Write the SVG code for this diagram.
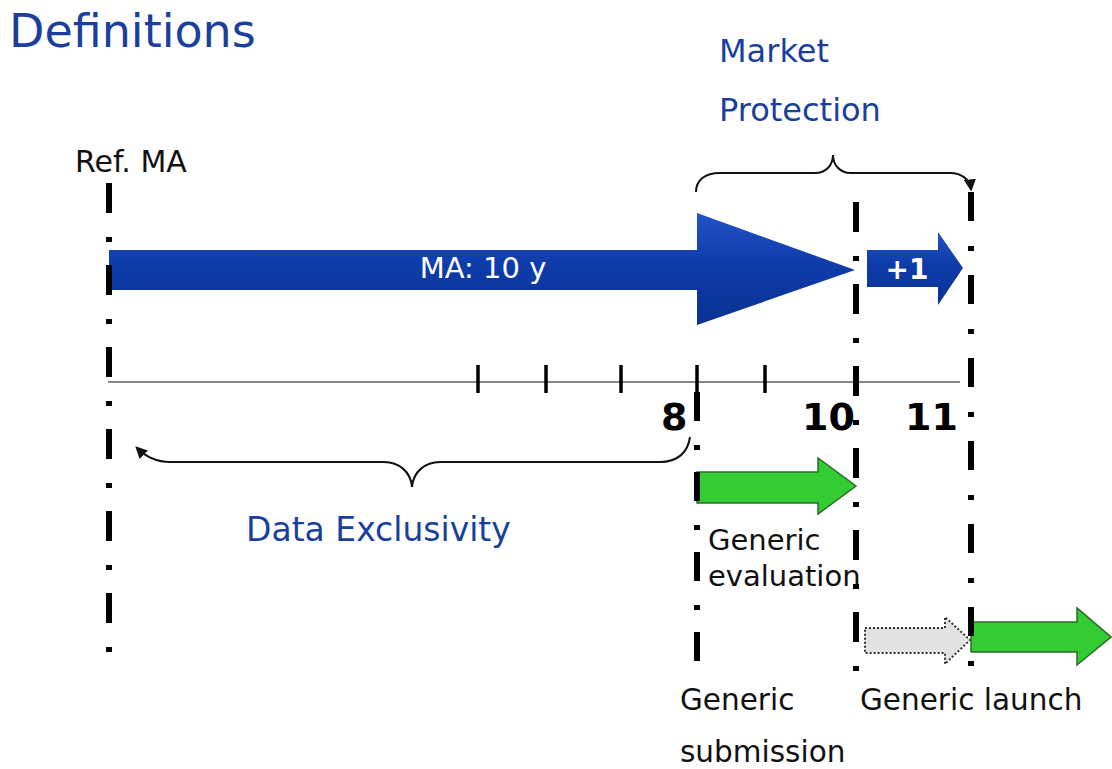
<svg xmlns="http://www.w3.org/2000/svg" width="1112" height="769" viewBox="0 0 1112 769">
  <style>
    .lbl { font-family: "DejaVu Sans", Verdana, sans-serif; fill: #111; }
    .blue { font-family: "DejaVu Sans", Verdana, sans-serif; fill: #1a3f9c; }
    .num { font-family: "DejaVu Sans", Verdana, sans-serif; font-weight: bold; fill: #000; font-size: 38px; }
    .vline { stroke: #000; stroke-width: 6; fill: none; }
    .tick { stroke: #000; stroke-width: 3.5; }
    .brace { stroke: #111; stroke-width: 2; fill: none; }
    .green { fill: #33cc33; stroke: #2b6b2b; stroke-width: 1.5; }
    .ghost { fill: #e2e2e2; stroke: #333; stroke-width: 2; stroke-dasharray: 2 2; }
  </style>
  <defs>
    <linearGradient id="blueFill" x1="0" y1="0" x2="0" y2="1">
      <stop offset="0" stop-color="#2352c6"/>
      <stop offset="0.45" stop-color="#0e3caa"/>
      <stop offset="1" stop-color="#0a3192"/>
    </linearGradient>
    <marker id="head" viewBox="0 0 10 10" refX="8" refY="5" markerWidth="6" markerHeight="6" orient="auto">
      <path d="M0,0 L10,5 L0,10 z" fill="#111"/>
    </marker>
  </defs>
  <rect width="1112" height="769" fill="#fff"/>

  <text class="blue" x="9" y="47" font-size="46">Definitions</text>

  <!-- time axis -->
  <g id="axis">
    <line x1="108" y1="382" x2="960" y2="382" stroke="#888" stroke-width="2"/>
    <line class="tick" x1="478" y1="365" x2="478" y2="393"/>
    <line class="tick" x1="546" y1="365" x2="546" y2="393"/>
    <line class="tick" x1="621" y1="365" x2="621" y2="393"/>
    <line class="tick" x1="697" y1="365" x2="697" y2="393"/>
    <line class="tick" x1="765" y1="365" x2="765" y2="393"/>
    <text class="num" x="661" y="430">8</text>
    <text class="num" x="802" y="430">10</text>
    <text class="num" x="905" y="430">11</text>
  </g>

  <!-- main MA arrow -->
  <g id="ma-arrow">
    <polygon points="109,250 697,250 697,213 855,270 697,325 697,290 109,290" fill="url(#blueFill)"/>
    <text x="483" y="278" font-family="DejaVu Sans, Verdana, sans-serif" font-size="29" fill="#fff" text-anchor="middle">MA: 10 y</text>
  </g>

  <!-- extra year arrow -->
  <g id="plus-one">
    <polygon points="867,250 938,250 938,232 963,268 938,305 938,287 867,287" fill="url(#blueFill)"/>
    <text x="907" y="279" font-family="DejaVu Sans, Verdana, sans-serif" font-size="28" font-weight="bold" fill="#fff" text-anchor="middle">+1</text>
  </g>

  <!-- generic evaluation arrow -->
  <g id="evaluation">
    <polygon class="green" points="697,472 818,472 818,458 856,486 818,514 818,503 697,503"/>
    <text class="lbl" x="708" y="550" font-size="29">Generic</text>
    <text class="lbl" x="708" y="586" font-size="29">evaluation</text>
  </g>

  <!-- waiting period arrow -->
  <g id="waiting">
    <polygon class="ghost" points="865,628 945,628 945,617 970,640 945,664 945,653 865,653"/>
  </g>

  <!-- generic launch arrow -->
  <g id="launch">
    <polygon class="green" points="971,622 1077,622 1077,608 1111,637 1077,665 1077,652 971,652"/>
    <text class="lbl" x="860" y="710" font-size="29.5">Generic launch</text>
  </g>

  <!-- milestone lines -->
  <g id="milestones">
    <line class="vline" x1="109" y1="183" x2="109" y2="653" stroke-dasharray="30 24 5 23"/>
    <line class="vline" x1="697" y1="392" x2="697" y2="664" stroke-dasharray="29 24 5 22"/>
    <line class="vline" x1="856" y1="202" x2="856" y2="672" stroke-dasharray="30 24 5 23"/>
    <line class="vline" x1="971" y1="192" x2="971" y2="666" stroke-dasharray="29 25 5 24"/>
  </g>

  <g id="ref-ma">
    <text class="lbl" x="75" y="172" font-size="30">Ref. MA</text>
  </g>

  <g id="submission">
    <text class="lbl" x="680" y="710" font-size="29.5">Generic</text>
    <text class="lbl" x="680" y="762" font-size="29.5">submission</text>
  </g>

  <!-- spans -->
  <g id="connectors">
    <path class="brace" marker-end="url(#head)" d="M696,192 C696,180 705,173 720,173 L815,173 C826,173 833,165 833,155 C833,165 840,173 851,173 L950,173 C962,173 970,180 971,189"/>
    <path class="brace" marker-end="url(#head)" d="M690,437 C688,452 678,462 660,462 L440,462 C425,462 413,472 412,487 C411,472 399,462 384,462 L170,462 C155,462 145,456 137,448"/>
  </g>

  <g id="market-protection">
    <text class="blue" x="719" y="62" font-size="32">Market</text>
    <text class="blue" x="719" y="121" font-size="32">Protection</text>
  </g>

  <g id="data-exclusivity">
    <text class="blue" x="246" y="541" font-size="33">Data Exclusivity</text>
  </g>
</svg>
